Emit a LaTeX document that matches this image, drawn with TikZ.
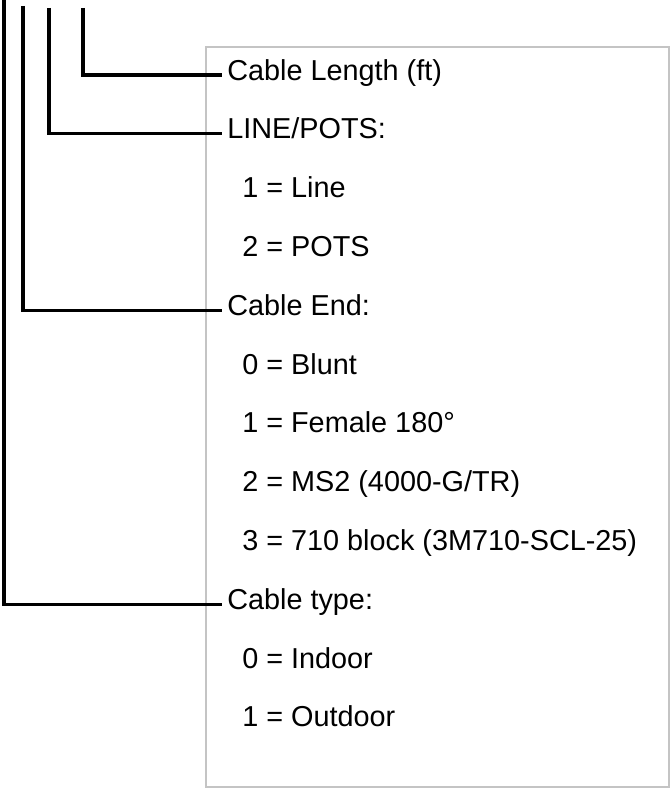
\documentclass[tikz,border=0pt]{standalone}
\usepackage{fontspec}
\setmainfont{Liberation Sans}
\usepackage{tikz}
\usetikzlibrary{positioning}
\definecolor{boxgrey}{HTML}{C4C4C4}
\tikzset{
  legendbox/.style={draw=boxgrey, line width=0.9pt},
  wire/.style={draw=black, line width=2.2pt},
  entry/.style={anchor=west, inner xsep=0.125cm, inner ysep=0pt, text height=0.716em, text depth=0pt, font=\fontsize{20.5}{25}\selectfont}
}
\begin{document}
\begin{tikzpicture}[head/.style={entry}, item/.style={entry, xshift=0.375cm}]
\useasboundingbox (0,0) rectangle (16.75,-19.725);
% legend frame
\draw[legendbox] (5.15,-1.175) rectangle (16.725,-19.675);
% headings
\node[head] (len)  at (5.55,-1.875)  {Cable Length (ft)};
\node[head] (pots) at (5.55,-3.345)  {LINE/POTS:};
\node[head] (cend) at (5.55,-7.755)  {Cable End:};
\node[head] (ctyp) at (5.55,-15.105) {Cable type:};
% values
\node[item] (p1) at (5.55,-4.815)  {1 = Line};
\node[item] (p2) at (5.55,-6.285)  {2 = POTS};
\node[item] (e0) at (5.55,-9.225)  {0 = Blunt};
\node[item] (e1) at (5.55,-10.695) {1 = Female 180°};
\node[item] (e2) at (5.55,-12.165) {2 = MS2 (4000-G/TR)};
\node[item] (e3) at (5.55,-13.635) {3 = 710 block (3M710-SCL-25)};
\node[item] (t0) at (5.55,-16.575) {0 = Indoor};
\node[item] (t1) at (5.55,-18.045) {1 = Outdoor};
% wires from the part number
\coordinate (w1) at (0.1,0);
\coordinate (w2) at (0.575,-0.15);
\coordinate (w3) at (1.225,-0.2);
\coordinate (w4) at (2.075,-0.2);
\draw[wire] (w4) |- (len.west);
\draw[wire] (w3) |- (pots.west);
\draw[wire] (w2) |- (cend.west);
\draw[wire] (w1) |- (ctyp.west);
\end{tikzpicture}
\end{document}
